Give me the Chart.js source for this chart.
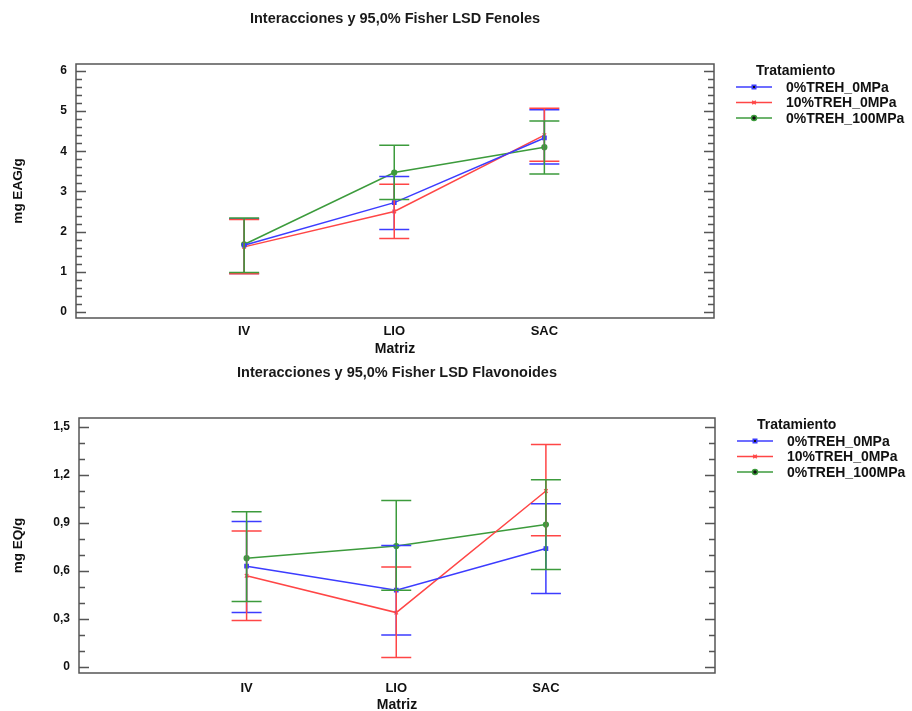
<!DOCTYPE html>
<html>
<head>
<meta charset="utf-8">
<script src="https://cdn.jsdelivr.net/npm/chart.js@4.4.1/dist/chart.umd.min.js"></script>
<style>
  body { margin: 0; background: #fff; }
  canvas { display: block; }
</style>
</head>
<body>
<canvas id="fenoles" width="912" height="358"></canvas>
<canvas id="flavonoides" width="912" height="353"></canvas>
<script>
// datos
const categories = ['IV', 'LIO', 'SAC'];
const seriesNames = ['0%TREH_0MPa', '10%TREH_0MPa', '0%TREH_100MPa'];

const fenTicks = [0, 1, 2, 3, 4, 5, 6];
const fenMean0 = [1.66, 2.72, 4.33];
const fenLow0 = [0.96, 2.05, 3.68];
const fenHigh0 = [2.32, 3.37, 5.03];
const fenMean10 = [1.62, 2.50, 4.40];
const fenLow10 = [0.95, 1.83, 3.75];
const fenHigh10 = [2.30, 3.18, 5.07];
const fenMean100 = [1.68, 3.47, 4.10];
const fenLow100 = [0.98, 2.80, 3.43];
const fenHigh100 = [2.34, 4.15, 4.75];

const flaTicks = [0, 0.3, 0.6, 0.9, 1.2, 1.5];
const flaMean0 = [0.63, 0.48, 0.74];
const flaLow0 = [0.34, 0.20, 0.46];
const flaHigh0 = [0.91, 0.76, 1.02];
const flaMean10 = [0.57, 0.34, 1.10];
const flaLow10 = [0.29, 0.06, 0.82];
const flaHigh10 = [0.85, 0.625, 1.39];
const flaMean100 = [0.68, 0.756, 0.89];
const flaLow100 = [0.41, 0.48, 0.61];
const flaHigh100 = [0.97, 1.04, 1.17];

const colors = ['rgb(60,60,255)', 'rgb(255,70,70)', 'rgb(60,155,60)'];
const markers = ['rect', 'crossRot', 'circle'];
const FONT = '"Liberation Sans", Arial, sans-serif';

function makeChart(id, title, yTitle, means, lows, highs, ticks, yMin, yMax, minorStep, fmt, area) {
    const canvas = document.getElementById(id);
    const W = canvas.width, H = canvas.height;

    // barras LSD + marco con marcas hacia dentro + leyenda
    const extras = {
        id: 'extras_' + id,
        beforeDatasetsDraw(chart) {
            const ctx = chart.ctx, a = chart.chartArea;
            const ys = chart.scales.y;
            ctx.save();
            ctx.strokeStyle = '#555';
            ctx.lineWidth = 1.3;
            ctx.beginPath();
            ticks.forEach(v => {
                const py = Math.round(ys.getPixelForValue(v)) + 0.5;
                ctx.moveTo(a.left, py); ctx.lineTo(a.left + 10, py);
                ctx.moveTo(a.right, py); ctx.lineTo(a.right - 10, py);
            });
            const n = Math.round((ticks[ticks.length - 1] - ticks[0]) / minorStep);
            for (let k = 0; k <= n; k++) {
                const v = ticks[0] + k * minorStep;
                if (ticks.some(t => Math.abs(t - v) < 1e-6)) continue;
                const py = Math.round(ys.getPixelForValue(v)) + 0.5;
                ctx.moveTo(a.left, py); ctx.lineTo(a.left + 6, py);
                ctx.moveTo(a.right, py); ctx.lineTo(a.right - 6, py);
            }
            ctx.stroke();
            ctx.restore();
        },
        afterDatasetsDraw(chart) {
            const ctx = chart.ctx, a = chart.chartArea;
            const xs = chart.scales.x, ys = chart.scales.y;
            ctx.save();
            ctx.lineWidth = 1.5;
            means.forEach((m, i) => {
                ctx.strokeStyle = colors[i];
                ctx.beginPath();
                m.forEach((v, j) => {
                    const px = xs.getPixelForValue(j + 1);
                    const lo = ys.getPixelForValue(lows[i][j]);
                    const hi = ys.getPixelForValue(highs[i][j]);
                    ctx.moveTo(px, lo); ctx.lineTo(px, hi);
                    ctx.moveTo(px - 15, lo); ctx.lineTo(px + 15, lo);
                    ctx.moveTo(px - 15, hi); ctx.lineTo(px + 15, hi);
                });
                ctx.stroke();
            });
            // marco
            ctx.strokeStyle = '#555';
            ctx.lineWidth = 1.5;
            ctx.strokeRect(a.left, a.top, a.right - a.left, a.bottom - a.top);

            // leyenda
            const lx = a.right + 22;
            ctx.fillStyle = '#111';
            ctx.textBaseline = 'middle';
            ctx.font = 'bold 14px ' + FONT;
            ctx.fillText('Tratamiento', lx + 20, a.top + 7);
            seriesNames.forEach((name, i) => {
                const y = a.top + 23 + i * 15.5;
                ctx.strokeStyle = colors[i];
                ctx.lineWidth = 1.5;
                ctx.beginPath();
                ctx.moveTo(lx, y); ctx.lineTo(lx + 36, y);
                ctx.stroke();
                Chart.helpers.drawPoint(ctx, {pointStyle: markers[i], radius: 2.5, borderWidth: 1.2}, lx + 18, y);
                ctx.fillStyle = '#111';
                ctx.fillText(name, lx + 50, y + 1);
            });
            ctx.restore();
        }
    };

    return new Chart(canvas, {
        type: 'line',
        data: {
            datasets: seriesNames.map((name, i) => ({
                label: name,
                data: means[i].map((v, j) => ({x: j + 1, y: v})),
                borderColor: colors[i],
                backgroundColor: colors[i],
                borderWidth: 1.5,
                pointStyle: markers[i],
                pointRadius: 2.5,
                pointBorderWidth: 1.2,
                tension: 0
            }))
        },
        options: {
            responsive: false,
            animation: false,
            layout: { padding: { left: 0, right: W - area.right, top: 0, bottom: 0 } },
            plugins: {
                legend: { display: false },
                tooltip: { enabled: false },
                title: {
                    display: true,
                    text: title,
                    fullSize: false,
                    color: '#1a1a1a',
                    font: { family: FONT, size: 14.5, weight: 'bold' },
                    padding: { top: area.titleY - 8.7, bottom: area.top - (area.titleY - 8.7) - 17.4 }
                }
            },
            scales: {
                x: {
                    type: 'linear',
                    min: -0.12,
                    max: 4.13,
                    afterBuildTicks: s => { s.ticks = categories.map((c, j) => ({value: j + 1})); },
                    afterFit: s => { s.height = H - area.bottom; },
                    grid: { display: false, drawTicks: false },
                    border: { display: false },
                    ticks: {
                        color: '#111',
                        padding: area.labelPad,
                        autoSkip: false,
                        maxRotation: 0,
                        font: { family: FONT, size: 13, weight: 'bold' },
                        callback: v => categories[v - 1]
                    },
                    title: {
                        display: true,
                        text: 'Matriz',
                        color: '#111',
                        font: { family: FONT, size: 14, weight: 'bold', lineHeight: 1 },
                        padding: { top: 0, bottom: area.titlePad }
                    }
                },
                y: {
                    min: yMin,
                    max: yMax,
                    afterBuildTicks: s => { s.ticks = ticks.map(v => ({value: v})); },
                    afterFit: s => { s.width = area.left; },
                    grid: { display: false, drawTicks: false },
                    border: { display: false },
                    ticks: {
                        color: '#111',
                        padding: 9,
                        font: { family: FONT, size: 12, weight: 'bold' },
                        callback: v => fmt(v)
                    },
                    title: {
                        display: true,
                        text: yTitle,
                        color: '#111',
                        font: { family: FONT, size: 13.5, weight: 'bold' },
                        padding: { top: 10, bottom: 0 }
                    }
                }
            }
        },
        plugins: [extras]
    });
}

makeChart('fenoles', 'Interacciones y 95,0% Fisher LSD Fenoles', 'mg EAG/g',
    [fenMean0, fenMean10, fenMean100],
    [fenLow0, fenLow10, fenLow100],
    [fenHigh0, fenHigh10, fenHigh100],
    fenTicks, -0.15, 6.17, 0.2, v => String(v),
    {left: 76, right: 714, top: 64, bottom: 318, titleY: 19, labelPad: 6, titlePad: 2});

makeChart('flavonoides', 'Interacciones y 95,0% Fisher LSD Flavonoides', 'mg EQ/g',
    [flaMean0, flaMean10, flaMean100],
    [flaLow0, flaLow10, flaLow100],
    [flaHigh0, flaHigh10, flaHigh100],
    flaTicks, -0.0375, 1.556, 0.1, v => v === 0 ? '0' : v.toFixed(1).replace('.', ','),
    {left: 79, right: 715, top: 60, bottom: 315, titleY: 15, labelPad: 8, titlePad: -1});
</script>
</body>
</html>
